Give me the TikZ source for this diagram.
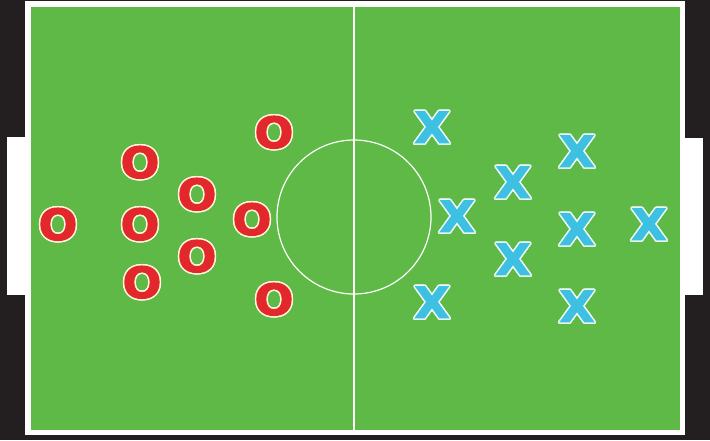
\documentclass[tikz,border=0pt]{standalone}
\usepackage{fontspec}
\usepackage[copies]{contour}
\newfontfamily\markerfont[FakeStretch=1.06,FakeBold=2.5]{DejaVu Sans}
\definecolor{bgdark}{HTML}{231F20}
\definecolor{pitch}{HTML}{5FB946}
\definecolor{ored}{HTML}{E2282B}
\definecolor{xblue}{HTML}{3DC0E2}
\definecolor{ocream}{HTML}{FDF4DC}
\definecolor{xpale}{HTML}{EAF8F2}
\contourlength{1.5pt}
\contournumber{16}
\tikzset{
  omark/.style={text=ored, font=\markerfont\bfseries\fontsize{43}{43}\selectfont, inner sep=0pt},
  xmark/.style={text=xblue, font=\markerfont\bfseries\fontsize{43}{43}\selectfont, inner sep=0pt},
  pitchline/.style={draw=white, line width=1.2pt},
}
\begin{document}
\begin{tikzpicture}[x=1pt,y=-1pt]
\useasboundingbox (0,0) rectangle (710,440);
\fill[bgdark] (0,0) rectangle (710,440);
% goals
\fill[white] (7,137) rectangle (26,295);
\fill[white] (684,138) rectangle (703,295);
% frame and pitch
\fill[white] (25,1) rectangle (685,435);
\fill[pitch] (31,7) rectangle (680,430);
% markings
\coordinate (ctop) at (354,7);
\coordinate (cbot) at (354,430);
\coordinate (cc) at (354,217);
\draw[pitchline] (ctop) -- (cbot);
\draw[pitchline] (cc) circle[radius=77];
% O players
\node[omark] (o1) at (58,225) {\contour{ocream}{O}};
\node[omark] (o2) at (140,163) {\contour{ocream}{O}};
\node[omark] (o3) at (140,225) {\contour{ocream}{O}};
\node[omark] (o4) at (142,283) {\contour{ocream}{O}};
\node[omark] (o5) at (197,195) {\contour{ocream}{O}};
\node[omark] (o6) at (197,257) {\contour{ocream}{O}};
\node[omark] (o7) at (252,220) {\contour{ocream}{O}};
\node[omark] (o8) at (274,133) {\contour{ocream}{O}};
\node[omark] (o9) at (274,300) {\contour{ocream}{O}};
% X players
\node[xmark] (x1) at (432,128) {\contour{xpale}{X}};
\node[xmark] (x2) at (457,217) {\contour{xpale}{X}};
\node[xmark] (x3) at (432,303) {\contour{xpale}{X}};
\node[xmark] (x4) at (513,183) {\contour{xpale}{X}};
\node[xmark] (x5) at (513,260) {\contour{xpale}{X}};
\node[xmark] (x6) at (577,152) {\contour{xpale}{X}};
\node[xmark] (x7) at (577,230) {\contour{xpale}{X}};
\node[xmark] (x8) at (577,307) {\contour{xpale}{X}};
\node[xmark] (x9) at (649,225) {\contour{xpale}{X}};
\end{tikzpicture}
\end{document}
